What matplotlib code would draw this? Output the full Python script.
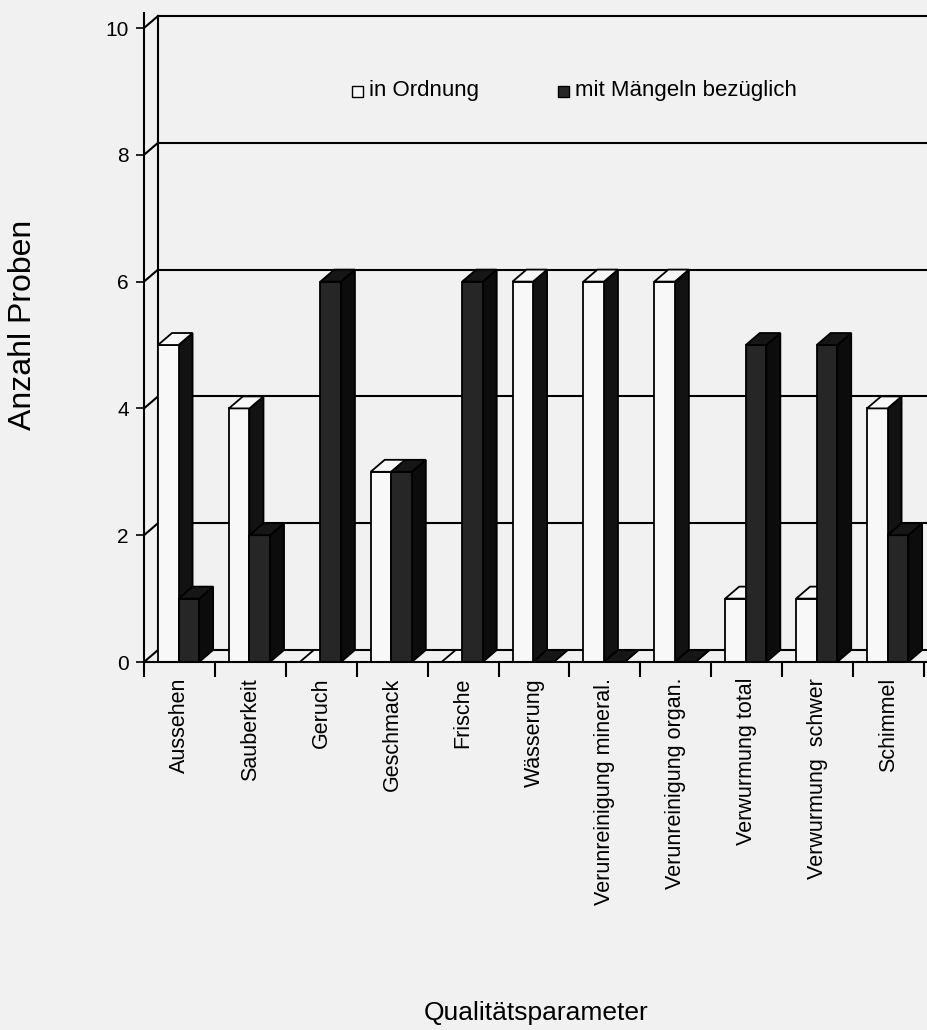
import numpy as np
import matplotlib
matplotlib.use("Agg")
import matplotlib.pyplot as plt
from matplotlib.patches import Polygon, Rectangle

plt.rcParams['font.family'] = ['Liberation Sans', 'DejaVu Sans']

categories = ["Aussehen", "Sauberkeit", "Geruch", "Geschmack", "Frische",
              "Wässerung", "Verunreinigung mineral.", "Verunreinigung organ.",
              "Verwurmung total", "Verwurmung  schwer", "Schimmel"]
in_ordnung = [5, 4, 0, 3, 0, 6, 6, 6, 1, 1, 4]
mit_maengeln = [1, 2, 6, 3, 6, 0, 0, 0, 5, 5, 2]
y_ticks = [0, 2, 4, 6, 8, 10]

BG = "#f1f1f1"
W_PX, H_PX = 928, 1030

# pseudo-3d geometry (data units)
DX, DY = 0.1975, 0.189
BAR_W = 0.29
OFFSET = 0.1975


def px(x, y):
    """pixel position from top-left -> figure fraction"""
    return x / W_PX, 1 - y / H_PX


def draw_series(ax, values, x0, front, top, side):
    xs = np.arange(len(values)) + x0
    for x, h in zip(xs, values):
        ax.add_patch(Polygon([(x + BAR_W, 0), (x + BAR_W + DX, DY),
                              (x + BAR_W + DX, h + DY), (x + BAR_W, h)],
                             closed=True, fc=side, ec="black", lw=1.3, zorder=3))
    ax.bar(xs, values, width=BAR_W, align="edge", color=front,
           edgecolor="black", linewidth=1.3, zorder=3)
    for x, h in zip(xs, values):
        ax.add_patch(Polygon([(x, h), (x + BAR_W, h), (x + BAR_W + DX, h + DY),
                              (x + DX, h + DY)],
                             closed=True, fc=top, ec="black", lw=1.3, zorder=3))


fig = plt.figure(figsize=(W_PX / 100, H_PX / 100), dpi=100, facecolor=BG)
ax = fig.add_axes([144 / W_PX, 330 / H_PX, 1 - 144 / W_PX, 700 / H_PX])
ax.set_facecolor(BG)
ax.set_xlim(0, 784 / 70.9)
ax.set_ylim(-38 / 63.4, 662 / 63.4)

# side wall, back wall gridlines and floor
for v in y_ticks:
    ax.plot([0, DX], [v, v + DY], color="black", lw=1.5, zorder=1)
    ax.plot([DX, ax.get_xlim()[1]], [v + DY, v + DY], color="black", lw=1.5, zorder=1)
ax.plot([DX, DX], [DY, 10 + DY], color="black", lw=1.5, zorder=1)

draw_series(ax, in_ordnung, OFFSET, "#f8f8f8", "#f8f8f8", "#121212")
draw_series(ax, mit_maengeln, OFFSET + BAR_W, "#262626", "#161616", "#0c0c0c")

for s in ["top", "right"]:
    ax.spines[s].set_visible(False)
ax.spines["left"].set_position(("data", 0))
ax.spines["left"].set_bounds(0, 10.24)
ax.spines["bottom"].set_position(("data", 0))
ax.spines["left"].set_linewidth(1.5)
ax.spines["bottom"].set_linewidth(1.5)
ax.spines["left"].set_zorder(4)
ax.spines["bottom"].set_zorder(4)

ax.set_yticks(y_ticks)
ax.set_yticklabels([str(v) for v in y_ticks])
ax.tick_params(axis="y", direction="out", length=6, width=1.2, pad=5, labelsize=15)

ax.set_xticks(np.arange(len(categories) + 1))
ax.set_xticklabels([])
ax.set_xticks(np.arange(len(categories)) + 0.5, minor=True)
ax.set_xticklabels(categories, minor=True, rotation=90, fontsize=15.5)
ax.tick_params(axis="x", which="major", direction="out", length=10.8, width=1.5)
ax.tick_params(axis="x", which="minor", length=0, pad=11.5)

# legend
for x, fc, label in [(352, "#f8f8f8", "in Ordnung"), (558, "#262626", "mit Mängeln bezüglich")]:
    fx, fy = px(x, 97)
    fig.add_artist(Rectangle((fx, fy), 11 / W_PX, 11 / H_PX, transform=fig.transFigure,
                             fc=fc, ec="black", lw=1.0))
    tx, ty = px(x + 17, 96)
    fig.text(tx, ty, label, fontsize=16, va="baseline", ha="left")

fig.text(*px(23, 325), "Anzahl Proben", rotation=90, fontsize=23, ha="center", va="center")
fig.text(*px(536, 1013), "Qualitätsparameter", fontsize=19, ha="center", va="center")

fig.savefig("out.png", dpi=100, facecolor=BG)
